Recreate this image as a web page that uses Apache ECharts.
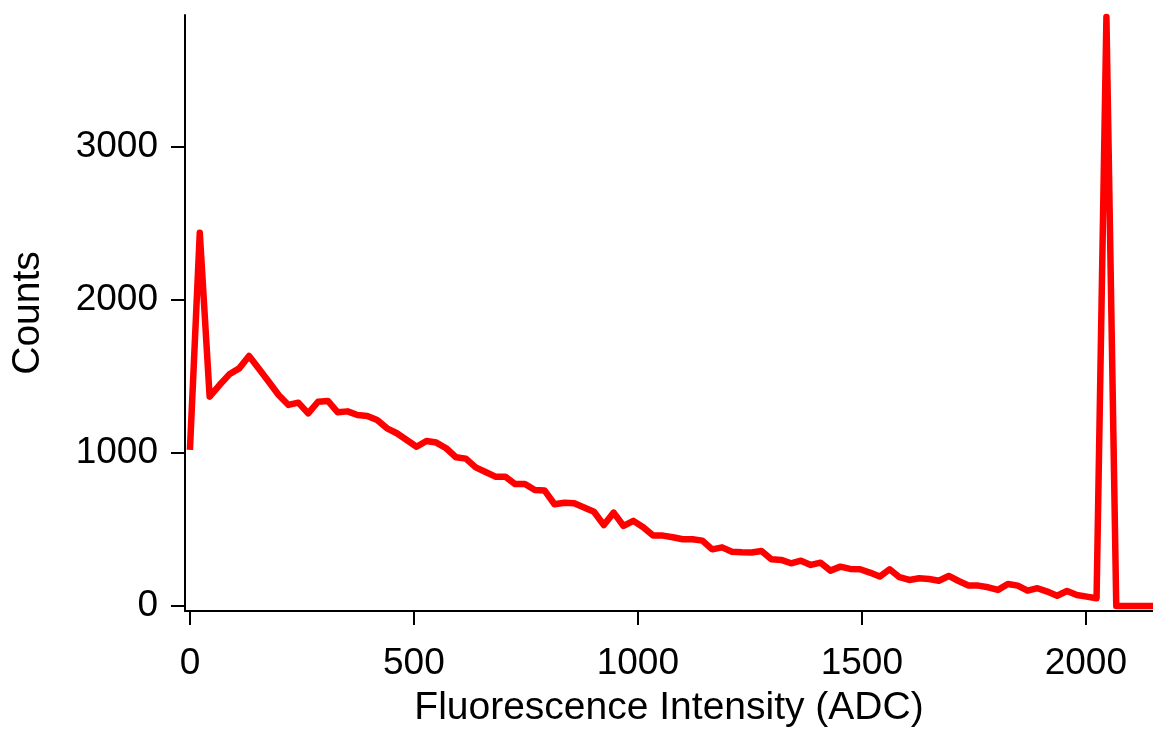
<!DOCTYPE html>
<html>
<head>
  <meta charset="UTF-8" />
  <title>Fluorescence histogram</title>
  <style>
    * { margin: 0; padding: 0; }
    html, body { width: 100%; height: 100%; background: #fff; }
    #chart { width: 1153px; height: 730px; }
  </style>
</head>
<body>
  <div id="chart"></div>
  <script src="https://cdn.jsdelivr.net/npm/echarts@6/dist/echarts.min.js"></script>
  <script>
    // bin positions (ADC)
    var binX = [0, 22, 44, 66, 88, 110, 132, 154, 176, 198, 220, 242, 264, 286, 308, 330, 352, 374, 396, 418,
      440, 462, 484, 506, 528, 550, 572, 594, 616, 638, 660, 682, 704, 726, 748, 770, 792, 814, 836, 858,
      880, 902, 924, 946, 968, 990, 1012, 1034, 1056, 1078, 1100, 1122, 1144, 1166, 1188, 1210, 1232, 1254,
      1276, 1298, 1320, 1342, 1364, 1386, 1408, 1430, 1452, 1474, 1496, 1518, 1540, 1562, 1584, 1606, 1628,
      1650, 1672, 1694, 1716, 1738, 1760, 1782, 1804, 1826, 1848, 1870, 1892, 1914, 1936, 1958, 1980, 2002,
      2024, 2046, 2068, 2090, 2112, 2134, 2156];
    // counts
    var counts = [1020, 2440, 1368, 1444, 1514, 1553, 1634, 1551, 1466, 1379, 1314, 1329, 1259, 1335, 1340, 1266,
      1272, 1248, 1242, 1216, 1161, 1129, 1085, 1041, 1078, 1068, 1031, 972, 963, 906, 876, 845, 845, 797,
      797, 758, 754, 665, 675, 671, 643, 616, 529, 610, 523, 556, 514, 460, 460, 449, 436, 436, 427, 370,
      383, 355, 351, 349, 359, 306, 301, 279, 296, 268, 283, 231, 257, 242, 240, 218, 192, 240, 188, 170,
      181, 176, 165, 196, 163, 134, 133, 122, 105, 144, 133, 100, 116, 94, 67, 98, 72, 61, 50, 3850,
      0, 0, 0, 0, 0];
    var xTicks = [0, 500, 1000, 1500, 2000];
    var yTicks = [0, 1000, 2000, 3000];

    var font = "'Liberation Sans', Arial, sans-serif";
    var points = binX.map(function (x, i) { return [x, counts[i]]; });
    var plain = function (v) { return String(v); }; // no thousands separator

    var chart = echarts.init(document.getElementById('chart'));
    chart.setOption({
      animation: false,
      grid: { left: 185, right: 0, top: 15, bottom: 119, containLabel: false, outerBoundsMode: 'none' },
      xAxis: {
        type: 'value',
        min: -11,
        max: 2150,
        name: 'Fluorescence Intensity (ADC)',
        nameLocation: 'middle',
        nameGap: 78,
        nameTextStyle: { color: '#000', fontSize: 39, fontFamily: font },
        axisLine: { onZero: false, lineStyle: { color: '#000', width: 2 } },
        axisTick: { show: true, length: 14, customValues: xTicks, lineStyle: { color: '#000', width: 2 } },
        axisLabel: { customValues: xTicks, formatter: plain, color: '#000', fontSize: 37, fontFamily: font, margin: 34 },
        splitLine: { show: false }
      },
      yAxis: {
        type: 'value',
        min: -33,
        max: 3863,
        name: 'Counts',
        nameLocation: 'middle',
        nameGap: 137,
        nameTextStyle: { color: '#000', fontSize: 39, fontFamily: font },
        axisLine: { show: true, onZero: false, lineStyle: { color: '#000', width: 2 } },
        axisTick: { show: true, length: 14, customValues: yTicks, lineStyle: { color: '#000', width: 2 } },
        axisLabel: { customValues: yTicks, formatter: plain, color: '#000', fontSize: 37, fontFamily: font, margin: 27 },
        splitLine: { show: false }
      },
      series: [{
        type: 'line',
        data: points,
        symbol: 'none',
        lineStyle: { color: '#ff0000', width: 6.5, join: 'round' },
        clip: true
      }]
    });
  </script>
</body>
</html>
